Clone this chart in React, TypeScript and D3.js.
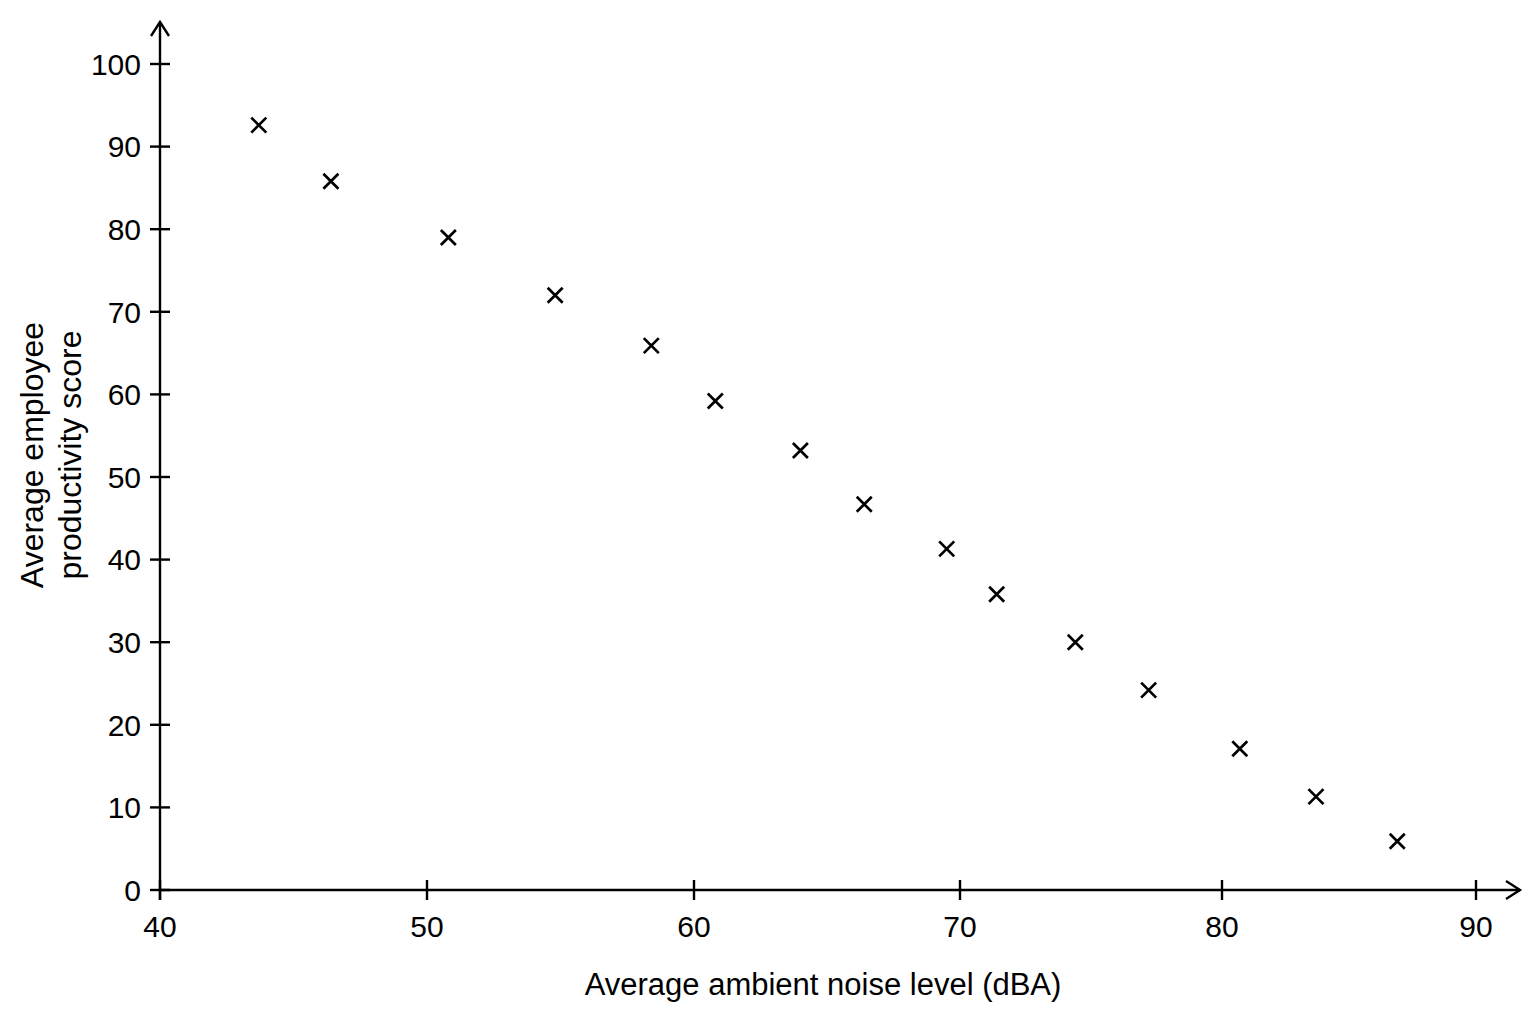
import React, { useEffect, useRef } from "react";
import * as d3 from "d3";

const noiseLevels = [43.7, 46.4, 50.8, 54.8, 58.4, 60.8, 64.0, 66.4, 69.5, 71.4, 74.4, 77.2, 80.7, 83.7, 86.9];
const productivity = [92.6, 85.8, 79.0, 72.0, 65.9, 59.2, 53.2, 46.7, 41.3, 35.8, 30.0, 24.2, 17.1, 11.3, 5.9];
const xTicks = [40, 50, 60, 70, 80, 90];
const yTicks = [0, 10, 20, 30, 40, 50, 60, 70, 80, 90, 100];

const App = () => {
  const ref = useRef<SVGSVGElement>(null);

  useEffect(() => {
    const width = 1536;
    const height = 1024;
    const font = "Liberation Sans, Arial, sans-serif";

    // the printed axis is slightly uneven, so map each decade to its own span
    const x = d3.scaleLinear().domain(xTicks).range([160, 427, 694, 960, 1222, 1476]);
    const y = d3.scaleLinear().domain([0, 100]).range([890, 64]);

    const svg = d3.select(ref.current);
    svg.selectAll("*").remove();
    svg.attr("viewBox", `0 0 ${width} ${height}`);

    svg.append("rect").attr("width", width).attr("height", height).attr("fill", "#fff");

    // axes lines with arrows
    svg
      .append("line")
      .attr("x1", x(40))
      .attr("x2", 1520)
      .attr("y1", y(0))
      .attr("y2", y(0))
      .attr("stroke", "#000")
      .attr("stroke-width", 2.4);
    svg
      .append("path")
      .attr("d", `M${1506},${y(0) - 9} L${1520},${y(0)} L${1506},${y(0) + 9}`)
      .attr("fill", "none")
      .attr("stroke", "#000")
      .attr("stroke-width", 2.4);

    svg
      .append("line")
      .attr("x1", x(40))
      .attr("x2", x(40))
      .attr("y1", y(0) + 10)
      .attr("y2", 22)
      .attr("stroke", "#000")
      .attr("stroke-width", 2.4);
    svg
      .append("path")
      .attr("d", `M${x(40) - 9},${36} L${x(40)},${22} L${x(40) + 9},${36}`)
      .attr("fill", "none")
      .attr("stroke", "#000")
      .attr("stroke-width", 2.4);

    // x ticks
    const xt = svg.append("g").selectAll("g").data(xTicks).join("g");
    xt.append("line")
      .attr("x1", (d) => x(d))
      .attr("x2", (d) => x(d))
      .attr("y1", y(0) - 10)
      .attr("y2", y(0) + 10)
      .attr("stroke", "#000")
      .attr("stroke-width", 2.4);
    xt.append("text")
      .attr("x", (d) => x(d))
      .attr("y", y(0) + 47)
      .attr("text-anchor", "middle")
      .style("font-family", font)
      .style("font-size", "30px")
      .text((d) => d);

    // y ticks
    const yt = svg.append("g").selectAll("g").data(yTicks).join("g");
    yt.append("line")
      .attr("x1", x(40) - 10)
      .attr("x2", x(40) + 10)
      .attr("y1", (d) => y(d))
      .attr("y2", (d) => y(d))
      .attr("stroke", "#000")
      .attr("stroke-width", 2.4);
    yt.append("text")
      .attr("x", x(40) - 19)
      .attr("y", (d) => y(d))
      .attr("dy", "0.36em")
      .attr("text-anchor", "end")
      .style("font-family", font)
      .style("font-size", "30px")
      .text((d) => d);

    // markers
    const s = 7.5;
    const pts = noiseLevels.map((n, i) => ({ nx: x(n), py: y(productivity[i]) }));
    svg
      .append("g")
      .selectAll("path")
      .data(pts)
      .join("path")
      .attr("d", (d) => `M${d.nx - s},${d.py - s} L${d.nx + s},${d.py + s} M${d.nx - s},${d.py + s} L${d.nx + s},${d.py - s}`)
      .attr("stroke", "#000")
      .attr("stroke-width", 2.7)
      .attr("fill", "none");

    // axis titles
    svg
      .append("text")
      .attr("x", 823)
      .attr("y", 995)
      .attr("text-anchor", "middle")
      .style("font-family", font)
      .style("font-size", "31px")
      .text("Average ambient noise level (dBA)");

    const yl = svg
      .append("text")
      .attr("transform", "translate(0,455) rotate(-90)")
      .attr("text-anchor", "middle")
      .style("font-family", font)
      .style("font-size", "32px");
    yl.append("tspan").attr("x", 0).attr("y", 43).text("Average employee");
    yl.append("tspan").attr("x", 0).attr("y", 81).text("productivity score");
  }, []);

  return (
    <div style={{ margin: -8 }}>
      <svg ref={ref} width={1536} height={1024} style={{ display: "block" }} />
    </div>
  );
};

export default App;
